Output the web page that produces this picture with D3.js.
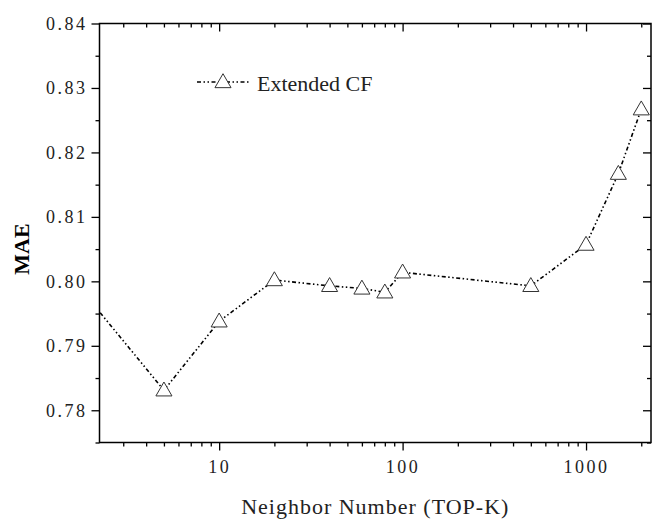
<!DOCTYPE html>
<html>
<head>
<meta charset="utf-8">
<script src="https://cdn.jsdelivr.net/npm/d3@7"></script>
<style>
  body { margin: 0; background: #fff; }
  svg { display: block; }
  text { font-family: "Liberation Serif", "Times New Roman", serif; }
</style>
</head>
<body>
<svg id="chart" width="654" height="520"></svg>
<script>
// data
var topK = [1, 5, 10, 20, 40, 60, 80, 100, 500, 1000, 1500, 2000];
var mae = [0.8073, 0.7831, 0.7938, 0.8002, 0.7993, 0.7989, 0.7983, 0.8014, 0.7993, 0.8057, 0.8167, 0.8267];
var seriesName = "Extended CF";

var xMajor = [10, 100, 1000];
var xMinor = [3, 4, 5, 6, 7, 8, 9, 20, 30, 40, 50, 60, 70, 80, 90,
              200, 300, 400, 500, 600, 700, 800, 900, 2000];
var yMajor = [0.78, 0.79, 0.80, 0.81, 0.82, 0.83, 0.84];
var yMinor = [0.775, 0.785, 0.795, 0.805, 0.815, 0.825, 0.835];

var plotL = 99.5, plotR = 651, plotT = 23.5, plotB = 442.5;

var svg = d3.select("#chart");

var x = d3.scaleLog()
    .domain([2.227, 2260])
    .range([plotL, plotR]);
var y = d3.scaleLinear()
    .domain([0.775, 0.84])
    .range([plotB, plotT]);

function styleAxis(g) {
    g.attr("font-family", null);
    g.select(".domain").remove();
    g.selectAll(".tick line").attr("stroke", "#000").attr("stroke-width", 1.3);
    g.selectAll(".tick text")
        .attr("fill", "#222")
        .style("font-family", "'Liberation Serif', 'Times New Roman', serif")
        .style("font-size", "18px")
        .style("letter-spacing", "2.5px");
}

// bottom axis (outward ticks) and top axis (inward ticks)
svg.append("g")
    .attr("transform", "translate(0," + plotB + ")")
    .call(d3.axisBottom(x).tickValues(xMajor).tickSize(8).tickPadding(10).tickFormat(d3.format("d")))
    .call(styleAxis);
svg.append("g")
    .attr("transform", "translate(0," + plotB + ")")
    .call(d3.axisBottom(x).tickValues(xMinor).tickSize(4).tickFormat(""))
    .call(styleAxis);
svg.append("g")
    .attr("transform", "translate(0," + plotT + ")")
    .call(d3.axisTop(x).tickValues(xMajor).tickSize(-8).tickFormat(""))
    .call(styleAxis);
svg.append("g")
    .attr("transform", "translate(0," + plotT + ")")
    .call(d3.axisTop(x).tickValues(xMinor).tickSize(-4).tickFormat(""))
    .call(styleAxis);

// left axis (outward ticks) and right axis (inward ticks)
svg.append("g")
    .attr("transform", "translate(" + plotL + ",0)")
    .call(d3.axisLeft(y).tickValues(yMajor).tickSize(8).tickPadding(4).tickFormat(d3.format(".2f")))
    .call(styleAxis);
svg.append("g")
    .attr("transform", "translate(" + plotL + ",0)")
    .call(d3.axisLeft(y).tickValues(yMinor).tickSize(4).tickFormat(""))
    .call(styleAxis);
svg.append("g")
    .attr("transform", "translate(" + plotR + ",0)")
    .call(d3.axisRight(y).tickValues(yMajor).tickSize(-8).tickFormat(""))
    .call(styleAxis);
svg.append("g")
    .attr("transform", "translate(" + plotR + ",0)")
    .call(d3.axisRight(y).tickValues(yMinor).tickSize(-4).tickFormat(""))
    .call(styleAxis);

// frame
svg.append("rect")
    .attr("x", plotL)
    .attr("y", plotT)
    .attr("width", plotR - plotL)
    .attr("height", plotB - plotT)
    .attr("fill", "none")
    .attr("stroke", "#000")
    .attr("stroke-width", 1.5);

// clip the series to the plot
svg.append("clipPath")
    .attr("id", "plot-clip")
  .append("rect")
    .attr("x", plotL)
    .attr("y", plotT)
    .attr("width", plotR - plotL)
    .attr("height", plotB - plotT);

var points = topK.map((k, i) => ({k: k, v: mae[i]}));
var dashes = "4,2.5,1.5,2.5,1.5,2.5";

var line = d3.line()
    .x(d => x(d.k))
    .y(d => y(d.v));

var plot = svg.append("g").attr("clip-path", "url(#plot-clip)");

plot.append("path")
    .datum(points)
    .attr("d", line)
    .attr("fill", "none")
    .attr("stroke", "#000")
    .attr("stroke-width", 1.6)
    .attr("stroke-dasharray", dashes);

var tri = d3.symbol().type(d3.symbolTriangle).size(112);

plot.selectAll(".marker")
    .data(points)
    .enter()
    .append("path")
    .classed("marker", true)
    .attr("d", tri)
    .attr("transform", d => "translate(" + x(d.k) + "," + (y(d.v) + 1) + ")")
    .attr("fill", "#fff")
    .attr("stroke", "#333")
    .attr("stroke-width", 1);

// legend
var legend = svg.append("g").attr("transform", "translate(197,82)");
legend.append("line")
    .attr("x1", 0).attr("x2", 53)
    .attr("stroke", "#000")
    .attr("stroke-width", 1.6)
    .attr("stroke-dasharray", dashes);
legend.append("path")
    .attr("d", tri)
    .attr("transform", "translate(26,1)")
    .attr("fill", "#fff")
    .attr("stroke", "#333")
    .attr("stroke-width", 1);
legend.append("text")
    .attr("x", 60)
    .attr("y", 9)
    .attr("fill", "#222")
    .style("font-size", "22px")
    .text(seriesName);

// axis titles
svg.append("text")
    .attr("x", (plotL + plotR) / 2)
    .attr("y", 514)
    .attr("text-anchor", "middle")
    .attr("fill", "#222")
    .style("font-size", "22px")
    .style("letter-spacing", "1px")
    .text("Neighbor Number (TOP-K)");

svg.append("text")
    .attr("transform", "translate(29,249) rotate(-90)")
    .attr("text-anchor", "middle")
    .style("font-size", "22px")
    .style("font-weight", "bold")
    .text("MAE");
</script>
</body>
</html>
